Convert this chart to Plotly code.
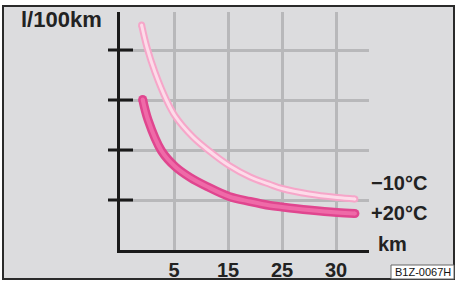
import plotly.graph_objects as go

W, H = 456, 281

# ---- data (x in grid units: gridline i <-> tick label) ----
x_tick_pos = [1, 2, 3, 4]
x_tick_labels = ["5", "15", "25", "30"]
y_tick_pos = [1, 2, 3, 4]

cold_label = "\u221210\u00b0C"
warm_label = "+20\u00b0C"

cold_x = [0.40, 0.50, 0.65, 0.86, 1.02, 1.35, 1.70, 2.02, 2.41, 2.78, 3.00, 3.50, 4.02, 4.35]
cold_y = [4.50, 4.05, 3.55, 3.00, 2.68, 2.26, 1.94, 1.69, 1.46, 1.31, 1.23, 1.12, 1.05, 1.02]

warm_x = [0.42, 0.52, 0.77, 1.02, 1.30, 1.61, 2.02, 2.41, 2.78, 3.00, 3.50, 4.02, 4.35]
warm_y = [3.01, 2.60, 1.98, 1.67, 1.45, 1.27, 1.07, 0.97, 0.89, 0.86, 0.80, 0.75, 0.73]


def px(x):
    return x / W


def py(y):
    return 1 - y / H


fig = go.Figure()


def add_curve(xs, ys, outer, inner, wo, wi):
    fig.add_trace(go.Scatter(x=xs, y=ys, mode="lines",
                             line=dict(color=outer, width=wo, shape="spline", smoothing=1.0),
                             hoverinfo="skip", showlegend=False))
    fig.add_trace(go.Scatter(x=[xs[0], xs[-1]], y=[ys[0], ys[-1]], mode="markers",
                             marker=dict(color=outer, size=wo, line=dict(width=0)),
                             hoverinfo="skip", showlegend=False))
    fig.add_trace(go.Scatter(x=xs, y=ys, mode="lines",
                             line=dict(color=inner, width=wi, shape="spline", smoothing=1.0),
                             hoverinfo="skip", showlegend=False))
    fig.add_trace(go.Scatter(x=[xs[0], xs[-1]], y=[ys[0], ys[-1]], mode="markers",
                             marker=dict(color=inner, size=wi, line=dict(width=0)),
                             hoverinfo="skip", showlegend=False))


add_curve(cold_x, cold_y, "#f6a6c9", "#fddbe9", 7, 3)
add_curve(warm_x, warm_y, "#e0468f", "#ef6aa8", 9, 4)

shapes = []
# outer frame
shapes.append(dict(type="rect", xref="paper", yref="paper",
                   x0=px(3), x1=px(454), y0=py(279), y1=py(6),
                   fillcolor="#dcdcde", line=dict(color="#2a2a2a", width=2), layer="below"))
# y tick marks crossing the axis
for v in y_tick_pos:
    shapes.append(dict(type="line", xref="paper", yref="y",
                       x0=px(108), x1=px(133), y0=v, y1=v,
                       line=dict(color="#1a1a1a", width=3), layer="above"))
# reference code box
shapes.append(dict(type="rect", xref="paper", yref="paper",
                   x0=px(391), x1=px(454), y0=py(279), y1=py(265),
                   fillcolor="white", line=dict(color="#666666", width=1), layer="above"))

bold = dict(family="Liberation Sans, Arial, sans-serif", color="#222222", weight="bold")

annotations = [
    dict(text="l/100km", x=px(61), y=py(20), xref="paper", yref="paper",
         xanchor="center", yanchor="middle", showarrow=False, font=dict(size=22, **bold)),
    dict(text=cold_label, x=px(429), y=py(183), xref="paper", yref="paper",
         xanchor="right", yanchor="middle", showarrow=False, font=dict(size=20, **bold)),
    dict(text=warm_label, x=px(429), y=py(213), xref="paper", yref="paper",
         xanchor="right", yanchor="middle", showarrow=False, font=dict(size=20, **bold)),
    dict(text="km", x=px(376), y=py(244), xref="paper", yref="paper",
         xanchor="left", yanchor="middle", showarrow=False, font=dict(size=20, **bold)),
    dict(text="B1Z-0067H", x=px(423), y=py(272), xref="paper", yref="paper",
         xanchor="center", yanchor="middle", showarrow=False,
         font=dict(size=11, family="Liberation Sans, Arial, sans-serif", color="#111111")),
]

fig.update_layout(
    width=W, height=H,
    margin=dict(l=0, r=0, t=0, b=0),
    paper_bgcolor="white",
    plot_bgcolor="rgba(0,0,0,0)",
    shapes=shapes,
    annotations=annotations,
    showlegend=False,
    xaxis=dict(domain=[px(120), px(369)], range=[0, (369 - 120) / 54],
               tickvals=x_tick_pos, ticktext=x_tick_labels,
               showgrid=True, gridcolor="#b8b8ba", gridwidth=2.5,
               showline=True, linecolor="#1a1a1a", linewidth=3,
               ticks="", zeroline=False, fixedrange=True,
               tickfont=dict(size=20, **bold)),
    yaxis=dict(domain=[py(250), py(12)], range=[0, (250 - 12) / 50],
               tickvals=y_tick_pos, showticklabels=False,
               showgrid=True, gridcolor="#b8b8ba", gridwidth=2.5,
               showline=True, linecolor="#1a1a1a", linewidth=3,
               ticks="", zeroline=False, fixedrange=True),
)

fig.write_html("out.html", config={"displayModeBar": False})
